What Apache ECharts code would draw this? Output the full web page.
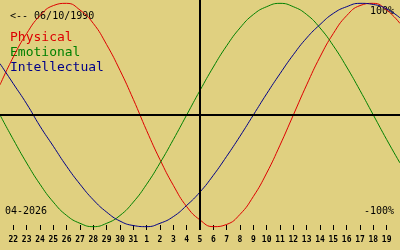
<!DOCTYPE html>
<html>
<head>
<meta charset="utf-8">
<script src="https://cdn.jsdelivr.net/npm/echarts@6/dist/echarts.min.js"></script>
<style>
html,body{margin:0;padding:0;background:#e0d080;}
#c{width:400px;height:250px;}
</style>
</head>
<body>
<div id="c"></div>
<script>
// Day labels (March 21 .. April 20); first and last sit on the edges without ticks
var dayLabels = ['21','22','23','24','25','26','27','28','29','30','31',
  '1','2','3','4','5','6','7','8','9','10','11','12','13','14','15','16','17','18','19','20'];
// Values in percent, one per day
var physical = [27,52,73,89,98,100,94,82,63,40,14,-14,-40,-63,-82,-94,-100,-98,-89,-73,-52,-27,0,27,52,73,89,98,100,94,82];
var emotional = [0,-22,-43,-62,-78,-90,-97,-100,-97,-90,-78,-62,-43,-22,0,22,43,62,78,90,97,100,97,90,78,62,43,22,0,-22,-43];
var intellectual = [46,28,10,-10,-28,-46,-62,-76,-87,-95,-99,-100,-97,-91,-81,-69,-54,-37,-19,0,19,37,54,69,81,91,97,100,99,95,87];
var centerIndex = '5';
var birthLabel = '<-- 06/10/1990';
var monthLabel = '04-2026';
var topLabel = '100%';
var bottomLabel = '-100%';
var legendNames = ['Physical','Emotional','Intellectual'];
var colors = ['#dd0000','#008000','#000088'];

var chart = echarts.init(document.getElementById('c'), null, {renderer:'canvas'});
var mono = 'DejaVu Sans Mono';
var lastIdx = dayLabels.length - 1;
function lineSeries(name, data, color){
  return {type:'line', name:name, data:data, smooth:true, symbol:'none', silent:true,
    lineStyle:{color:color, width:1}, animation:false};
}
chart.setOption({
  backgroundColor:'#e0d080',
  animation:false,
  grid:{left:0,right:0,top:0,bottom:20,containLabel:false},
  xAxis:{type:'category', data:dayLabels, boundaryGap:false,
    axisLine:{show:false, onZero:false},
    axisTick:{show:true, inside:true, length:5, lineStyle:{color:'#000',width:1},
      interval:function(i){return i>0 && i<lastIdx;}},
    axisLabel:{show:true, margin:6, color:'#000', fontFamily:mono, fontSize:8, fontWeight:'bold',
      interval:function(i){return i>0 && i<lastIdx;}},
    splitLine:{show:false}},
  yAxis:{type:'value', min:-103, max:103, show:false, splitLine:{show:false}},
  series:[
    {type:'line', data:[], silent:true,
      markLine:{silent:true, symbol:'none', label:{show:false}, animation:false,
        lineStyle:{color:'#000', width:2, type:'solid'},
        data:[{xAxis:centerIndex},{yAxis:0}]}},
    lineSeries(legendNames[0], physical, colors[0]),
    lineSeries(legendNames[1], emotional, colors[1]),
    lineSeries(legendNames[2], intellectual, colors[2])
  ],
  graphic:[
    {type:'text', left:10, top:11, style:{text:birthLabel, fill:'#000', font:'10px "DejaVu Sans Mono"'}},
    {type:'text', left:10, top:31, style:{text:legendNames[0], fill:colors[0], font:'13px "DejaVu Sans Mono"'}},
    {type:'text', left:10, top:46, style:{text:legendNames[1], fill:colors[1], font:'13px "DejaVu Sans Mono"'}},
    {type:'text', left:10, top:61, style:{text:legendNames[2], fill:colors[2], font:'13px "DejaVu Sans Mono"'}},
    {type:'text', right:6, top:6, style:{text:topLabel, fill:'#000', font:'10px "DejaVu Sans Mono"'}},
    {type:'text', right:6, top:206, style:{text:bottomLabel, fill:'#000', font:'10px "DejaVu Sans Mono"'}},
    {type:'text', left:5, top:206, style:{text:monthLabel, fill:'#000', font:'10px "DejaVu Sans Mono"'}}
  ]
});
</script>
</body>
</html>
